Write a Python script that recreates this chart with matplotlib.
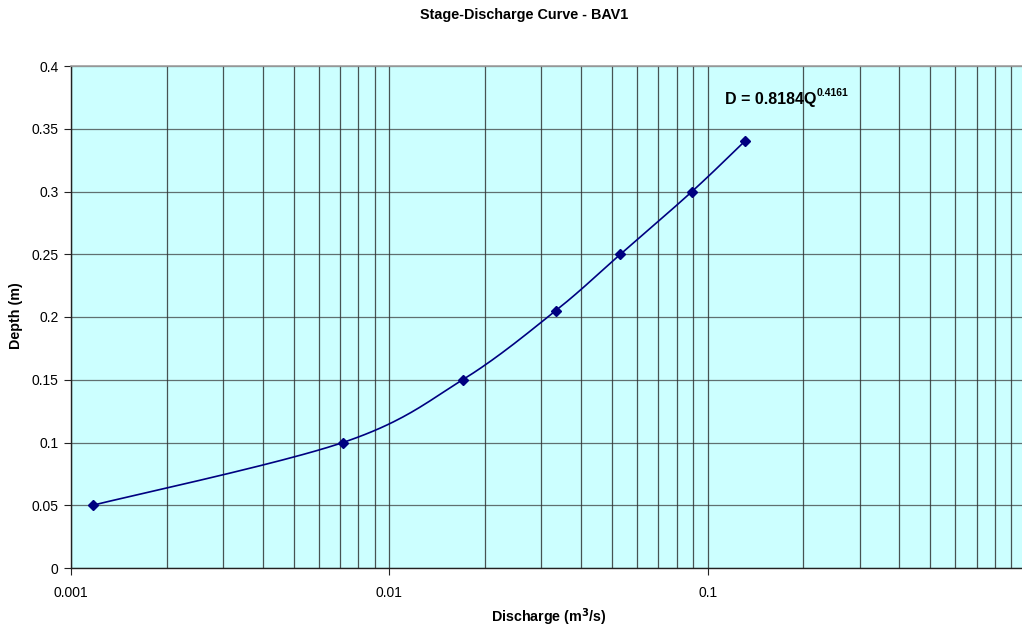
import numpy as np
import matplotlib
matplotlib.use("Agg")
import matplotlib.pyplot as plt
from matplotlib.ticker import LogLocator, FixedLocator, NullFormatter

plt.rcParams["font.family"] = ["Liberation Sans", "DejaVu Sans"]

# measured stage-discharge pairs
discharge = [0.00117, 0.00715, 0.0170, 0.0333, 0.0532, 0.0893, 0.1307]
depth = [0.05, 0.10, 0.15, 0.205, 0.25, 0.30, 0.34]
y_ticks = [0, 0.05, 0.1, 0.15, 0.2, 0.25, 0.3, 0.35, 0.4]
y_labels = ["0", "0.05", "0.1", "0.15", "0.2", "0.25", "0.3", "0.35", "0.4"]
eq_main = "D = 0.8184Q"
eq_exp = "0.4161"

BG = "#CCFFFF"
LINE = "#000080"


def smooth(xs, ys, n=40):
    """Catmull-Rom curve through the points, in log-x / screen-scaled space."""
    lx = np.log10(xs)
    # scale y so both axes are in comparable screen units
    k = 1255.0 / 318.3
    P = np.column_stack([lx, np.asarray(ys) * k])
    P = np.vstack([P[0], P, P[-1]])
    out = []
    for i in range(1, len(P) - 2):
        p0, p1, p2, p3 = P[i - 1], P[i], P[i + 1], P[i + 2]
        t = np.linspace(0, 1, n)[:, None]
        c = 0.5 * ((2 * p1) + (-p0 + p2) * t + (2 * p0 - 5 * p1 + 4 * p2 - p3) * t ** 2
                   + (-p0 + 3 * p1 - 3 * p2 + p3) * t ** 3)
        out.append(c if i == 1 else c[1:])
    c = np.vstack(out)
    return 10 ** c[:, 0], c[:, 1] / k


fig = plt.figure(figsize=(10.22, 6.30), dpi=100)
ax = fig.add_axes([71 / 1022, 62 / 630, 955 / 1022, 502 / 630])
ax.set_facecolor(BG)
ax.set_xscale("log")
ax.set_xlim(0.001, 1)
ax.set_ylim(0, 0.4)

ax.xaxis.set_major_locator(FixedLocator([0.001, 0.01, 0.1, 1]))
ax.xaxis.set_minor_locator(LogLocator(base=10, subs=np.arange(2, 10), numticks=20))
ax.xaxis.set_minor_formatter(NullFormatter())
ax.set_xticks([0.001, 0.01, 0.1])
ax.set_xticklabels(["0.001", "0.01", "0.1"])
ax.set_yticks(y_ticks)
ax.set_yticklabels(y_labels)

ax.grid(True, which="both", axis="x", color="#1a1a1a", lw=0.9, alpha=0.75)
ax.grid(True, which="major", axis="y", color="#333333", lw=0.9, alpha=0.7)
ax.set_axisbelow(True)

ax.tick_params(axis="both", which="major", direction="out", length=5, width=0.8,
               color="#222222", labelsize=10, pad=8)
ax.tick_params(axis="x", which="minor", length=0)
ax.tick_params(axis="y", pad=4)

for side in ("left", "bottom"):
    ax.spines[side].set_color("#222222")
    ax.spines[side].set_linewidth(1.0)
ax.spines["top"].set_color("#a0a0a0")
ax.spines["top"].set_linewidth(1.2)
ax.spines["right"].set_visible(False)

sx, sy = smooth(discharge, depth)
ax.plot(sx, sy, color=LINE, lw=1.2, zorder=3)
ax.plot(discharge, depth, ls="none", marker="D", ms=5.5, color=LINE, zorder=4)

# fitted power law, exponent set as a small raised label
t = ax.text(0.1134, 0.370, eq_main, fontsize=11.5, fontweight="bold",
            ha="left", va="baseline")
ax.annotate(eq_exp, xy=(1.0, 0.6), xycoords=t, fontsize=7.5, fontweight="bold",
            ha="left", va="bottom")

fig.text(0.513, 1 - 15 / 630, "Stage-Discharge Curve - BAV1", fontsize=10.4,
         fontweight="bold", ha="center", va="center")
fig.text(549 / 1022, 1 - 617 / 630, r"Discharge (m$^\mathbf{3}$/s)", fontsize=10.3,
         fontweight="bold", ha="center", va="center")
fig.text(16 / 1022, 1 - 316 / 630, "Depth (m)", fontsize=10.3, fontweight="bold",
         rotation=90, ha="center", va="center")

fig.savefig("out.png", dpi=100)
